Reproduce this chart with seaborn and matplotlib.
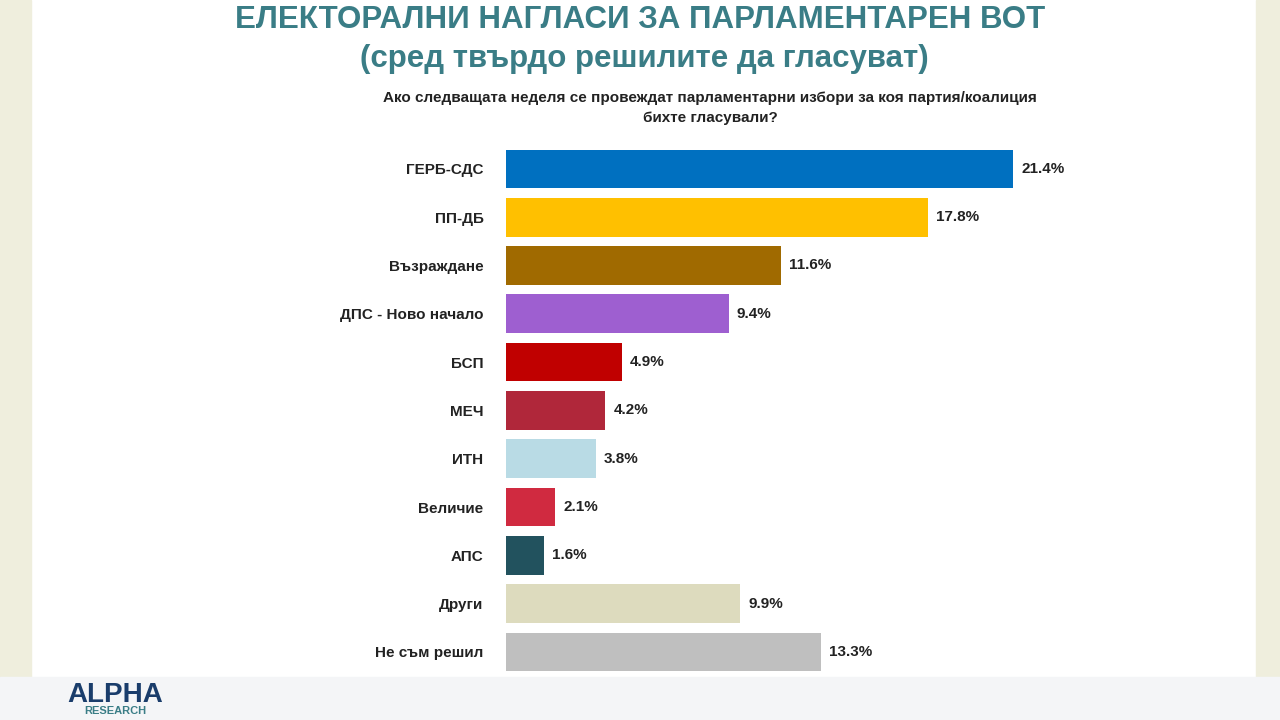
import matplotlib
matplotlib.use("Agg")
import matplotlib.pyplot as plt
import seaborn as sns
from matplotlib.patches import Rectangle

parties = ["ГЕРБ-СДС", "ПП-ДБ", "Възраждане", "ДПС - Ново начало", "БСП", "МЕЧ",
           "ИТН", "Величие", "АПС", "Други", "Не съм решил"]
shares = [21.4, 17.8, 11.6, 9.4, 4.9, 4.2, 3.8, 2.1, 1.6, 9.9, 13.3]
colors = ["#0070c0", "#ffc000", "#a06a00", "#9e5fd0", "#c00000", "#b0273a",
          "#b9dbe5", "#d02a40", "#22525e", "#dddbbe", "#bfbfbf"]

sns.set_theme(style="white")
plt.rcParams["font.family"] = ["Liberation Sans", "DejaVu Sans"]

fig = plt.figure(figsize=(12.8, 7.2), dpi=100)
fig.patch.set_facecolor("white")
# cream side strips and snowy bottom band
fig.patches.append(Rectangle((0, 0), 0.024, 1, transform=fig.transFigure, color="#efeedd", zorder=0))
fig.patches.append(Rectangle((0.981, 0), 0.019, 1, transform=fig.transFigure, color="#efeedd", zorder=0))
fig.patches.append(Rectangle((0, 0), 1, 0.06, transform=fig.transFigure, color="#f4f5f7", zorder=0))

ax = fig.add_axes([0.395, 0.061, 0.556, 0.738])
sns.barplot(x=shares, y=parties, hue=parties, palette=colors, legend=False,
            orient="h", width=0.8, saturation=1, linewidth=0, ax=ax)
ax.set_xlim(0, 30)
for i, v in enumerate(shares):
    ax.text(v + 0.35, i, f"{v:.1f}%", va="center", ha="left", fontsize=11, fontweight="bold", color="#222222")
ax.set_xticks([])
ax.set_xlabel("")
ax.set_ylabel("")
ax.tick_params(axis="y", length=0, pad=16)
for lab in ax.get_yticklabels():
    lab.set_fontsize(11)
    lab.set_fontweight("bold")
    lab.set_color("#222222")
sns.despine(ax=ax, left=True, bottom=True)
ax.set_facecolor("none")

fig.text(0.5, 0.972, "ЕЛЕКТОРАЛНИ НАГЛАСИ ЗА ПАРЛАМЕНТАРЕН ВОТ", ha="center", va="center",
         fontsize=22.5, fontweight="bold", color="#3a7d86")
fig.text(0.503, 0.918, "(сред твърдо решилите да гласуват)", ha="center", va="center",
         fontsize=22.5, fontweight="bold", color="#3a7d86")
fig.text(0.555, 0.85, "Ако следващата неделя се провеждат парламентарни избори за коя партия/коалиция\nбихте гласували?",
         ha="center", va="center", fontsize=11, fontweight="bold", color="#222222", linespacing=1.5)
fig.text(0.09, 0.035, "ALPHA", ha="center", va="center", fontsize=20, fontweight="bold", color="#1a3d6b")
fig.text(0.09, 0.012, "RESEARCH", ha="center", va="center", fontsize=8, fontweight="bold", color="#3a7d86")

fig.savefig("out.png", dpi=100)
